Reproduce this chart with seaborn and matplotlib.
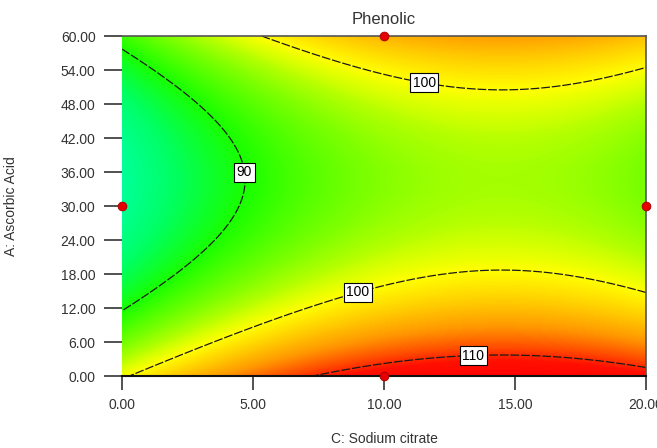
import numpy as np
import matplotlib
matplotlib.use("Agg")
import matplotlib.pyplot as plt
from matplotlib.colors import LinearSegmentedColormap
import seaborn as sns

# Quadratic response-surface model for Phenolic, coefficients in coded factors
# (a = coded Ascorbic Acid, c = coded Sodium citrate, both on [-1, 1])
coef_intercept = 95.35
coef_a = -3.93
coef_c = 5.99
coef_ac = 0.0
coef_aa = 12.83
coef_cc = -6.66

# Factor ranges (actual units)
ascorbic_range = [0.0, 60.0]
citrate_range = [0.0, 20.0]

# Design points shown on the plot
design_citrate = [10.0, 0.0, 20.0, 10.0]
design_ascorbic = [60.0, 30.0, 30.0, 0.0]

# Contour levels and where their labels sit
contour_levels = [90, 100, 110]
label_citrate = [4.7, 11.6, 8.9, 13.4]
label_ascorbic = [36.0, 53.5, 16.5, 5.1]

# Tick values
x_ticks = [0, 5, 10, 15, 20]
y_ticks = [0, 6, 12, 18, 24, 30, 36, 42, 48, 54, 60]

# Colour ramp: response value -> colour
ramp_values = [81.0, 86.0, 90.0, 95.0, 100.0, 103.0, 106.0, 109.0, 111.0, 114.0]
ramp_colors = ["#00FFB0", "#00FF60", "#18FF00", "#84FF00", "#FFFF00",
               "#FFCC00", "#FF9800", "#FF4A00", "#FF1000", "#FF0000"]

sns.set_theme(style="white")
plt.rcParams["font.family"] = ["Liberation Sans", "DejaVu Sans"]


def phenolic(ascorbic, citrate):
    a = (ascorbic - 30.0) / 30.0
    c = (citrate - 10.0) / 10.0
    return (coef_intercept + coef_a * a + coef_c * c + coef_ac * a * c
            + coef_aa * a ** 2 + coef_cc * c ** 2)


cgrid = np.linspace(citrate_range[0], citrate_range[1], 301)
agrid = np.linspace(ascorbic_range[0], ascorbic_range[1], 301)
CC, AA = np.meshgrid(cgrid, agrid)
ZZ = phenolic(AA, CC)

vmin, vmax = ramp_values[0], ramp_values[-1]
pos = [(v - vmin) / (vmax - vmin) for v in ramp_values]
cmap = LinearSegmentedColormap.from_list("de_ramp", list(zip(pos, ramp_colors)))

fig = plt.figure(figsize=(6.57, 4.48), dpi=100)
ax = fig.add_axes([122 / 657, 1 - 376 / 448, 524 / 657, 340 / 448])

ax.contourf(CC, AA, ZZ, levels=np.linspace(vmin, vmax, 256), cmap=cmap,
            vmin=vmin, vmax=vmax, extend="both")
cs = ax.contour(CC, AA, ZZ, levels=contour_levels, colors="#1a1a1a",
                linewidths=0.9, linestyles=[(0, (7, 1.5))])
labels = ax.clabel(cs, fmt="%d", inline=False, fontsize=10,
                   manual=list(zip(label_citrate, label_ascorbic)))
for t in labels:
    t.set_rotation(0)
    t.set_color("black")
    t.set_zorder(5)
    t.set_bbox(dict(boxstyle="square,pad=0.18", fc="white", ec="black", lw=0.8))

ax.scatter(design_citrate, design_ascorbic, s=40, marker="o",
           color="#E60000", edgecolor="#A00000", linewidth=0.6,
           clip_on=False, zorder=6)

ax.set_xlim(citrate_range)
ax.set_ylim(ascorbic_range)
ax.set_xticks(x_ticks)
ax.set_yticks(y_ticks)
ax.set_xticklabels([f"{v:.2f}" for v in x_ticks])
ax.set_yticklabels([f"{v:.2f}" for v in y_ticks])
ax.tick_params(axis="x", direction="out", length=10, width=1.2, color="#333333",
               labelsize=10, labelcolor="#333333", pad=6, bottom=True)
ax.tick_params(axis="y", direction="out", length=13, width=1.2, color="#333333",
               labelsize=10, labelcolor="#333333", pad=6, left=True)

for side in ["top", "right"]:
    ax.spines[side].set_color("#555555")
    ax.spines[side].set_linewidth(1.2)
ax.spines["bottom"].set_color("#111111")
ax.spines["bottom"].set_linewidth(1.5)
ax.spines["left"].set_visible(False)

ax.set_title("Phenolic", fontsize=12, color="#333333", pad=9)
ax.set_xlabel("C: Sodium citrate", fontsize=10, color="#333333")
ax.set_ylabel("A: Ascorbic Acid", fontsize=10, color="#333333")
ax.xaxis.set_label_coords(0.5, -0.165)
ax.yaxis.set_label_coords(-0.198, 0.5)

fig.savefig("out.png", dpi=100)
